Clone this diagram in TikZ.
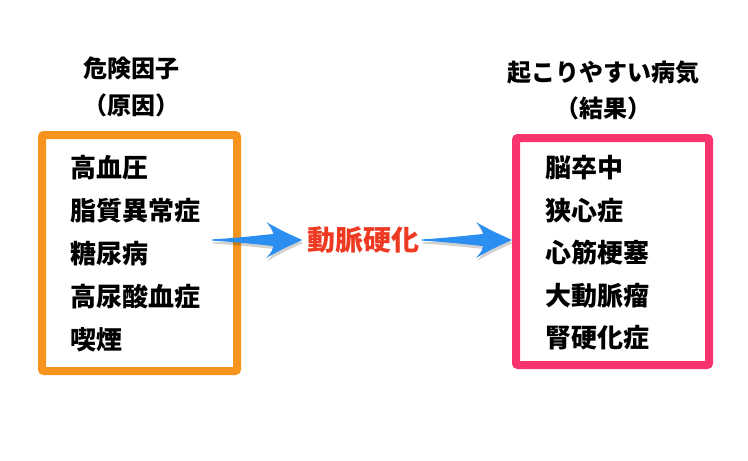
\documentclass[tikz,border=0pt]{standalone}
\usepackage{fontspec}
\setmainfont{Noto Sans CJK JP}
\usetikzlibrary{calc}

\definecolor{riskorange}{HTML}{F7941E}
\definecolor{resultpink}{HTML}{F9336C}
\definecolor{arrowblue}{HTML}{2B8FF2}
\definecolor{labelred}{HTML}{EE3A22}

\tikzset{
    head/.style={font=\bfseries\fontsize{24}{24}\selectfont, inner sep=0pt},
    item/.style={font=\bfseries\fontsize{26}{26}\selectfont, inner sep=0pt, anchor=west},
    frame/.style={draw, line width=8pt, rounded corners=2pt, fill=white},
    arrowshade/.style={fill=black, opacity=0.18},
    arrowbody/.style={fill=arrowblue}
}

% tapered arrow from #2 (tail) to #3 (tip)
\newcommand{\fatarrow}[3]{%
    \fill[#1] let \p1=(#2), \p2=(#3), \n1={\x2-\x1} in
        (\x1,{\y1-0.6pt}) .. controls ({\x1+0.35*\n1},{\y1-2.5pt}) and ({\x1+0.55*\n1},{\y1-5pt}) .. ({\x1+0.68*\n1},{\y1-6pt})
        .. controls ({\x1+0.66*\n1},{\y1-12pt}) .. ({\x1+0.6*\n1},{\y1-18pt})
        .. controls ({\x1+0.78*\n1},{\y1-9pt}) .. (\p2)
        .. controls ({\x1+0.78*\n1},{\y1+9pt}) .. ({\x1+0.6*\n1},{\y1+18pt})
        .. controls ({\x1+0.66*\n1},{\y1+12pt}) .. ({\x1+0.68*\n1},{\y1+6pt})
        .. controls ({\x1+0.55*\n1},{\y1+5pt}) and ({\x1+0.35*\n1},{\y1+2.5pt}) .. (\x1,{\y1+0.6pt}) -- cycle;
}

\begin{document}
\begin{tikzpicture}[x=1pt, y=-1pt]
    \useasboundingbox (0,0) rectangle (748,461);

    % cause side
    \node[head] (riskhead) at (131,68) {危険因子};
    \node[head] (riskcause) at (131,105) {（原因）};
    \node[frame, draw=riskorange, minimum width=195pt, minimum height=236pt] (riskbox) at (139.5,253) {};
    \foreach \t [count=\i] in {高血圧, 脂質異常症, 糖尿病, 高尿酸血症, 喫煙}
        \node[item] (risk\i) at (70,{125+43*\i}) {\t};

    % result side
    \node[head] (reshead) at (603,73) {起こりやすい病気};
    \node[head] (resresult) at (603,108) {（結果）};
    \node[frame, draw=resultpink, minimum width=193pt, minimum height=227pt] (resbox) at (612.5,251.5) {};
    \foreach \t [count=\i] in {脳卒中, 狭心症, 心筋梗塞, 大動脈瘤, 腎硬化症}
        \node[item] (res\i) at (545,{125+42.6*\i}) {\t};

    % middle
    \node[font=\bfseries\fontsize{28}{28}\selectfont, text=labelred, inner sep=0pt] (athero) at (363.5,240) {動脈硬化};

    \coordinate (tail1) at ([xshift=-29pt]riskbox.east |- athero.west);
    \coordinate (tip1) at ([xshift=-5pt]athero.west);
    \coordinate (tail2) at ([xshift=2pt]athero.east);
    \coordinate (tip2) at (resbox.west |- athero.east);

    \fatarrow{arrowshade}{$(tail1)+(1,3)$}{$(tip1)+(1,3)$}
    \fatarrow{arrowbody}{tail1}{tip1}
    \fatarrow{arrowshade}{$(tail2)+(1,3)$}{$(tip2)+(1,3)$}
    \fatarrow{arrowbody}{tail2}{tip2}
\end{tikzpicture}
\end{document}
